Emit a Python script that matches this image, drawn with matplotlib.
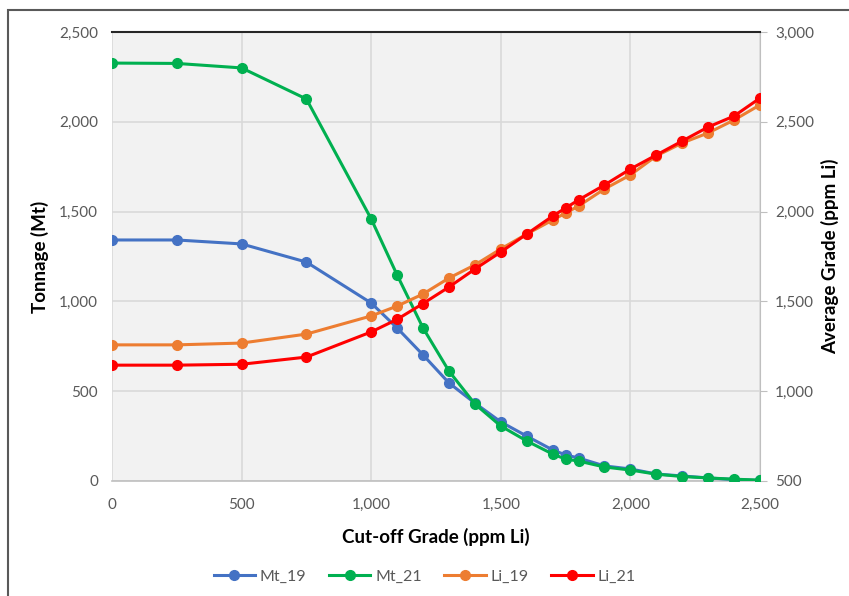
import matplotlib
matplotlib.use("Agg")
import matplotlib.pyplot as plt
from matplotlib.ticker import FuncFormatter, MultipleLocator
from matplotlib.patches import Rectangle

plt.rcParams['font.family'] = ['Lato', 'DejaVu Sans']

cutoff = [0, 250, 500, 750, 1000, 1100, 1200, 1300, 1400, 1500, 1600, 1700, 1750,
          1800, 1900, 2000, 2100, 2200, 2300, 2400, 2500]
mt_19 = [1342, 1342, 1320, 1219, 991, 852, 702, 546, 434, 329, 250, 173, 145,
         128, 84, 67, 39, 28, 17, 8, 3]
mt_21 = [2327, 2325, 2300, 2127, 1459, 1147, 852, 612, 429, 306, 223, 150, 122,
         111, 78, 61, 38, 25, 17, 10, 5]
li_19 = [1258, 1258, 1268, 1318, 1419, 1474, 1541, 1630, 1703, 1792, 1875, 1953, 1992,
         2031, 2126, 2204, 2310, 2382, 2438, 2510, 2594]
li_21 = [1145, 1145, 1150, 1190, 1330, 1400, 1488, 1580, 1680, 1775, 1875, 1975, 2020,
         2065, 2148, 2237, 2315, 2393, 2471, 2532, 2632]

fig = plt.figure(figsize=(8.49, 5.96), dpi=100)
ax = fig.add_axes([112 / 849, 1 - 481 / 596, 648 / 849, 449 / 596])
ax2 = ax.twinx()

# outer frame like the pasted Excel chart
fig.patches.append(Rectangle((8 / 849, -0.05), 1.0, 1 - 10 / 596 + 0.05,
                             transform=fig.transFigure, fill=False,
                             edgecolor='#595959', linewidth=1.5))

ax.set_facecolor('#F2F2F2')
ax.set_zorder(ax2.get_zorder() + 1)
ax.patch.set_visible(True)
ax2.patch.set_visible(False)

lw = 2.2
ms = 7
l1, = ax.plot(cutoff, mt_19, color='#4472C4', marker='o', lw=lw, ms=ms, label='Mt_19', zorder=3)
l2, = ax.plot(cutoff, mt_21, color='#00B050', marker='o', lw=lw, ms=ms, label='Mt_21', zorder=3)
l3, = ax.plot(cutoff, [v - 500 for v in li_19], color='#ED7D31', marker='o', lw=lw, ms=ms,
              label='Li_19', zorder=3)
l4, = ax.plot(cutoff, [v - 500 for v in li_21], color='#FF0000', marker='o', lw=lw, ms=ms,
              label='Li_21', zorder=3)

ax.set_xlim(0, 2500)
ax.set_ylim(0, 2500)
ax2.set_ylim(500, 3000)
ax.xaxis.set_major_locator(MultipleLocator(500))
ax.yaxis.set_major_locator(MultipleLocator(500))
ax2.yaxis.set_major_locator(MultipleLocator(500))

fmt = FuncFormatter(lambda v, p: f"{int(v):,}")
ax.xaxis.set_major_formatter(fmt)
ax.yaxis.set_major_formatter(fmt)
ax2.yaxis.set_major_formatter(fmt)

ax.grid(True, color='#D9D9D9', lw=1.2, zorder=0)
ax.set_axisbelow(True)

for s in ['left', 'right']:
    ax.spines[s].set_visible(False)
    ax2.spines[s].set_visible(False)
ax2.spines['right'].set_visible(True)
ax2.spines['right'].set_color('#BFBFBF')
ax.spines['top'].set_color('#262626')
ax.spines['top'].set_linewidth(1.5)
ax2.spines['top'].set_visible(False)
ax.spines['bottom'].set_color('#BFBFBF')
ax.spines['bottom'].set_linewidth(1.2)
ax2.spines['bottom'].set_visible(False)

ax.tick_params(axis='both', length=0, labelsize=11, labelcolor='#595959', pad=10)
ax.tick_params(axis='x', pad=12)
ax2.tick_params(axis='y', length=5, color='#BFBFBF', labelsize=11, labelcolor='#595959', pad=6)

ax.set_xlabel('Cut-off Grade (ppm Li)', fontsize=13.5, fontweight='bold', labelpad=12)
ax.set_ylabel('Tonnage (Mt)', fontsize=13.5, fontweight='bold', labelpad=7)
ax2.set_ylabel('Average Grade (ppm Li)', fontsize=13.5, fontweight='bold', labelpad=5)

fig.legend(handles=[l1, l2, l3, l4], loc='center', bbox_to_anchor=(0.5, 1 - 577 / 596),
           ncol=4, frameon=False, fontsize=11.5, labelcolor='#595959',
           handlelength=2.6, columnspacing=1.4, handletextpad=0.3)

fig.savefig('out.png', dpi=100)
